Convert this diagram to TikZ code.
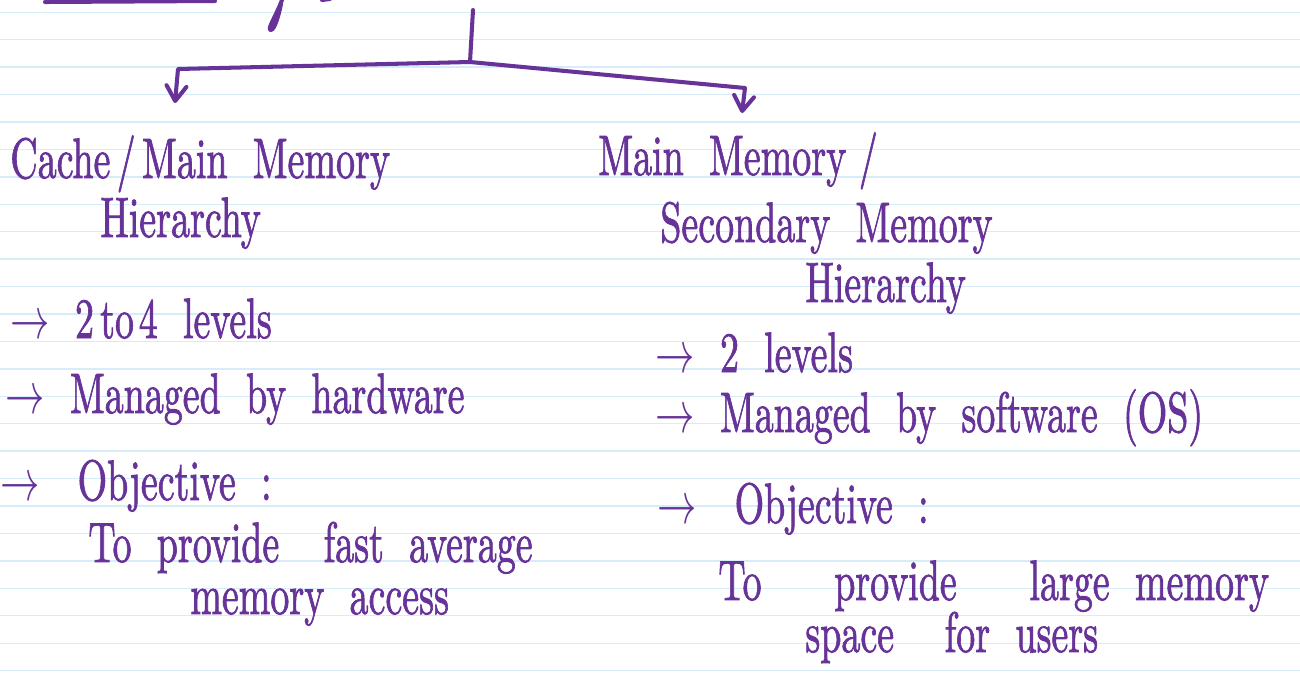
\documentclass[tikz,border=0pt]{standalone}
\usepackage{xcolor}
\usepackage{graphicx}
\usepackage{fontspec}
\usepackage{tikz}
\usetikzlibrary{arrows.meta}
\newfontfamily\handfont{lmroman10-regular.otf}[FakeBold=1.6]
\definecolor{inkpurple}{RGB}{103,51,153}
\definecolor{rulingblue}{RGB}{214,237,249}
\newcommand\Gap{27.43}
\newcommand\handtext[1]{\scalebox{0.9}[1.35]{\spaceskip=16pt\relax #1}}
\tikzset{
  ink/.style={
    draw = inkpurple,
    line width = 2.3pt,
    line cap = round,
    line join = round
  },
  tip/.style={
    -{Straight Barb[length=3mm,width=4mm,line cap=round,line join=round]}
  },
  ruling/.style={
    draw = rulingblue,
    line width = 0.8pt
  },
  hand/.style={
    anchor = base west,
    inner sep = 0pt,
    text = inkpurple,
    font = \handfont\fontsize{24}{28}\selectfont
  }
}

\begin{document}
\begin{tikzpicture}[x=0.02cm,y=-0.02cm]
        \useasboundingbox (0,0) rectangle (1300,680);
        \fill[white] (0,0) rectangle (1300,680);

        % ruled paper
        \foreach \k in {0,...,24}
          \draw[ruling] (0,12.3+\Gap*\k) -- (1300,12.3+\Gap*\k);

        % what is left of the heading above
        \draw[ink] (45,2) -- (215,1);
        \draw[ink] (282,0) .. controls (276,16) and (266,31) .. (271,30) .. controls (275,29) and (279,14) .. (281,4);
        \draw[ink] (322,0) -- (330,-1);

        % the two branches
        \coordinate (stem) at (473,10);
        \coordinate (fork) at (470,62);
        \coordinate (leftTurn) at (178,69);
        \coordinate (leftTip) at (175,103);
        \coordinate (rightTurn) at (745,88);
        \coordinate (rightTip) at (742,113);
        \draw[ink] (stem) -- (fork);
        \draw[ink,tip] (fork) -- (leftTurn) -- (leftTip);
        \draw[ink,tip] (fork) -- (rightTurn) -- (rightTip);

        % left column
        \node[hand] (cacheTitle) at (10,178) {\handtext{Cache\,/\,Main Memory}};
        \node[hand] (cacheHier) at (100,237) {\handtext{Hierarchy}};
        \node[hand] (cacheLevels) at (10,338) {\handtext{$\rightarrow$ 2\hspace{4pt}to\hspace{3pt}4 levels}};
        \node[hand] (cacheManaged) at (5,413) {\handtext{$\rightarrow$ Managed by hardware}};
        \node[hand] (cacheObj) at (0,500) {\handtext{$\rightarrow$\quad Objective :}};
        \node[hand] (cacheGoal) at (88,562) {\handtext{To provide\hspace{12pt} fast average}};
        \node[hand] (cacheGoalB) at (190,614) {\handtext{memory access}};

        % right column
        \node[hand] (diskTitle) at (598,175) {\handtext{Main Memory\,\,/}};
        \node[hand] (diskSecond) at (660,242) {\handtext{Secondary Memory}};
        \node[hand] (diskHier) at (805,302) {\handtext{Hierarchy}};
        \node[hand] (diskLevels) at (655,372) {\handtext{$\rightarrow$ 2 levels}};
        \node[hand] (diskManaged) at (655,432) {\handtext{$\rightarrow$ Managed by software (OS)}};
        \node[hand] (diskObj) at (657,523) {\handtext{$\rightarrow$\quad Objective :}};
        \node[hand] (diskGoal) at (718,600) {\handtext{To\hspace{30pt} provide\hspace{30pt} large memory}};
        \node[hand] (diskGoalB) at (805,652) {\handtext{space\hspace{16pt} for users}};
\end{tikzpicture}
\end{document}
